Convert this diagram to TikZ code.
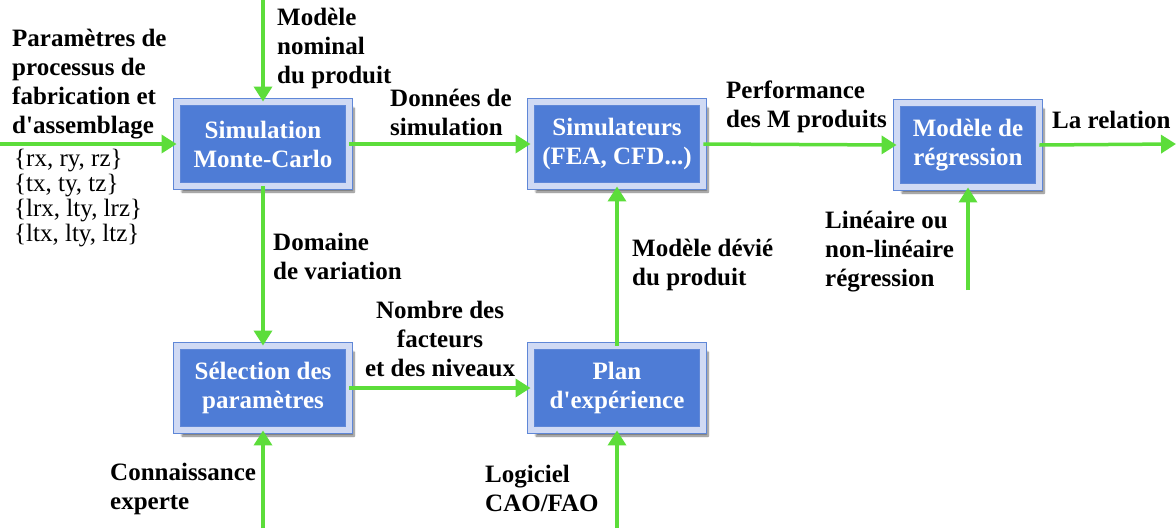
\documentclass[tikz,border=0pt]{standalone}
\usepackage{fontspec}
\setmainfont{Liberation Serif}
\usetikzlibrary{arrows.meta, positioning, calc, shadows.blur}
\definecolor{boxblue}{RGB}{78,124,214}
\definecolor{boxedge}{RGB}{95,135,215}
\definecolor{boxlight}{RGB}{208,218,244}
\definecolor{flowgreen}{RGB}{92,221,58}

\begin{document}
\begin{tikzpicture}[
    x=1pt, y=-1pt,
    every node/.style={font=\fontsize{25}{29}\selectfont\bfseries},
    block/.style={
        rectangle,
        fill=boxblue,
        draw=boxedge,
        line width=0.9pt,
        double=boxlight,
        double distance=6pt,
        minimum width=172pt,
        minimum height=84pt,
        align=center,
        text=white,
        inner sep=2pt,
        blur shadow={shadow xshift=5pt, shadow yshift=-6pt, shadow blur steps=8, shadow opacity=55}
    },
    arrow/.style={
        -{Triangle[length=15pt,width=18pt]},
        line width=3.5pt,
        draw=flowgreen
    },
    lab/.style={
        align=left,
        anchor=north west,
        inner sep=0pt
    }
]
\useasboundingbox (0,0) rectangle (1176,528);

% blocks
\node[block] (sim) at (263,144) {Simulation\\Monte-Carlo};
\node[block] (simul) at (617,144) {Simulateurs\\(FEA, CFD...)};
\node[block, minimum width=142pt] (regr) at (968,145) {Modèle de\\régression};
\node[block] (select) at (263,388) {Sélection des\\paramètres};
\node[block] (plan) at (617,388) {Plan\\d\textquotesingle expérience};

% free ends
\coordinate (inleft) at (0,144);
\coordinate (intop) at (263,0);
\coordinate (outright) at (1176,144);
\coordinate (inregr) at (968,290);
\coordinate (inselect) at (263,528);
\coordinate (inplan) at (617,528);

% flows
\draw[arrow] (inleft) -- (sim.west);
\draw[arrow] (intop) -- (sim.north);
\draw[arrow] (sim.east) -- (simul.west);
\draw[arrow] (simul.east) -- (regr.west);
\draw[arrow] (regr.east) -- (outright);
\draw[arrow] (inregr) -- (regr.south);
\draw[arrow] (sim.south) -- (select.north);
\draw[arrow] (select.east) -- (plan.west);
\draw[arrow] (plan.north) -- (simul.south);
\draw[arrow] (inselect) -- (select.south);
\draw[arrow] (inplan) -- (plan.south);

% labels
\node[lab] (lparam) at (12,29) {Paramètres de\\processus de\\fabrication et\\d\textquotesingle assemblage};
\node[lab, font=\fontsize{25}{25}\selectfont] (lsets) at (14,149) {\{rx, ry, rz\}\\\{tx, ty, tz\}\\\{lrx, lty, lrz\}\\\{ltx, lty, ltz\}};
\node[lab] (lnominal) at (277,8) {Modèle\\nominal\\du produit};
\node[lab] (ldonnees) at (390,89) {Données de\\simulation};
\node[lab] (lperf) at (726,81) {Performance\\des M produits};
\node[lab] (lrelation) at (1052,111) {La relation};
\node[lab] (llineaire) at (825,211) {Linéaire ou\\non-linéaire\\régression};
\node[lab] (ldomaine) at (273,233) {Domaine\\de variation};
\node[lab, anchor=north, align=center] (lnombre) at (440,301) {Nombre des\\facteurs\\et des niveaux};
\node[lab] (ldevie) at (632,239) {Modèle dévié\\du produit};
\node[lab] (lexpert) at (110,463) {Connaissance\\experte};
\node[lab] (llogiciel) at (485,465) {Logiciel\\CAO/FAO};
\end{tikzpicture}
\end{document}
